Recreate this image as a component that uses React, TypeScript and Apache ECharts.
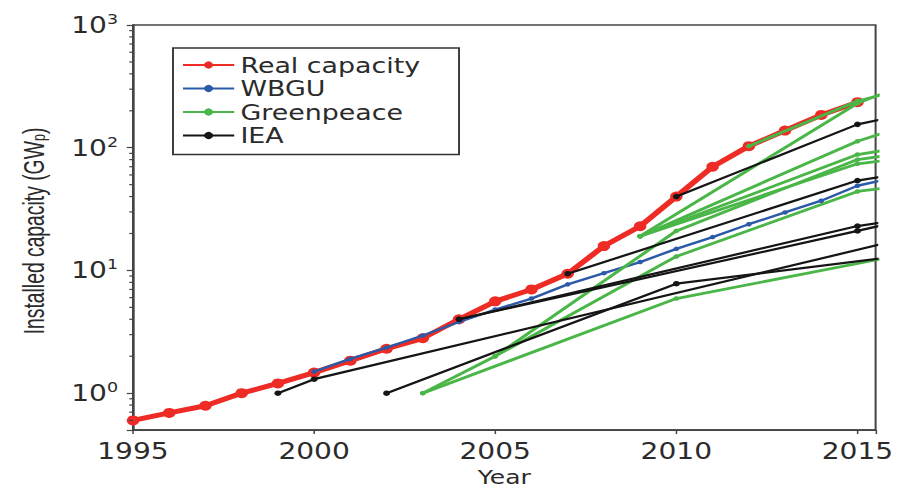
import React, { useEffect, useRef } from "react";
import * as echarts from "echarts";

// ---------- data ----------
const X_MIN = 1995;
const X_MAX = 2015.5;
const X_INTERVAL = 5;
const X_TICKS = [1995, 2000, 2005, 2010, 2015];
const Y_MIN = 0.5;
const Y_MAX = 1000;
const Y_MINOR = [0.6, 0.7, 0.8, 0.9, 2, 3, 4, 5, 6, 7, 8, 9, 20, 30, 40, 50, 60, 70, 80, 90, 200, 300, 400, 500, 600, 700, 800, 900];

const REAL_YEARS = [1995, 1996, 1997, 1998, 1999, 2000, 2001, 2002, 2003, 2004, 2005, 2006, 2007, 2008, 2009, 2010, 2011, 2012, 2013, 2014, 2015];
const REAL = [0.6, 0.69, 0.79, 1.0, 1.2, 1.47, 1.84, 2.3, 2.8, 4.0, 5.6, 7.0, 9.4, 15.8, 22.9, 40, 70, 103, 138, 185, 235];

const WBGU_YEARS = [2000, 2001, 2002, 2003, 2004, 2005, 2006, 2007, 2008, 2009, 2010, 2011, 2012, 2013, 2014, 2015, 2016];
const WBGU = [1.5, 1.9, 2.35, 2.95, 3.8, 4.8, 5.9, 7.7, 9.5, 11.7, 15, 18.7, 23.8, 29.7, 37, 49, 57];

const GREENPEACE_A = [[2003, 1.0], [2010, 5.9], [2016, 13.0]];
const GREENPEACE_B = [[2003, 1.0], [2005, 2.0], [2010, 13], [2015, 44], [2016, 48]];
const GREENPEACE_C = [[2005, 2.0], [2010, 21], [2015, 80], [2016, 88]];
const GREENPEACE_D = [[2009, 19], [2015, 74], [2016, 80]];
const GREENPEACE_E = [[2009, 19], [2015, 88], [2016, 98]];
const GREENPEACE_F = [[2009, 19], [2015, 113], [2016, 140]];
const GREENPEACE_G = [[2009, 19], [2015, 230], [2016, 300]];
const GREENPEACE_H = [[2012, 103], [2015, 240], [2016, 285]];
const GREENPEACE = [GREENPEACE_A, GREENPEACE_B, GREENPEACE_C, GREENPEACE_D, GREENPEACE_E, GREENPEACE_F, GREENPEACE_G, GREENPEACE_H];

const IEA_A = [[1999, 1.0], [2000, 1.3], [2016, 17.3]];
const IEA_B = [[2002, 1.0], [2010, 7.8], [2016, 12.9]];
const IEA_C = [[2004, 4.0], [2015, 21], [2016, 24.5]];
const IEA_D = [[2004, 4.0], [2015, 23], [2016, 25.5]];
const IEA_E = [[2007, 9.4], [2015, 54], [2016, 60]];
const IEA_F = [[2010, 40], [2015, 155], [2016, 178]];
const IEA = [IEA_A, IEA_B, IEA_C, IEA_D, IEA_E, IEA_F];

const LEGEND_NAMES = ["Real capacity", "WBGU", "Greenpeace", "IEA"];
const Y_TITLE = "Installed capacity (GW{sub|p})";
const X_TITLE = "Year";

// ---------- styles ----------
const RED = "#ee2b24";
const BLUE = "#2c5aa8";
const GREEN = "#4ab648";
const BLACK = "#151515";
const AXIS = "#444";
const TEXT = "#2b2b2b";
const NARROW = "'Liberation Sans', Arial, sans-serif";

const PAGE_W = 897;
const PAGE_H = 492;
const INNER_W = 718;
const S = PAGE_W / INNER_W; // horizontal stretch of the original figure

export default function App() {
  const ref = useRef<HTMLDivElement>(null);

  useEffect(() => {
    if (!ref.current) return;
    const chart = echarts.init(ref.current, undefined, { renderer: "svg" });

    const real = REAL_YEARS.map((y, i) => [y, REAL[i]]);
    const wbgu = WBGU_YEARS.map((y, i) => [y, WBGU[i]]);

    const series: any[] = [
      {
        name: "Real capacity",
        type: "line",
        data: real,
        symbol: "circle",
        symbolSize: 10,
        showAllSymbol: true,
        lineStyle: { color: RED, width: 5 },
        itemStyle: { color: RED },
        z: 2,
      },
      {
        name: "WBGU",
        type: "line",
        data: wbgu,
        symbol: "circle",
        symbolSize: 4.5,
        showAllSymbol: true,
        lineStyle: { color: BLUE, width: 2.4 },
        itemStyle: { color: BLUE },
        z: 3,
      },
      ...GREENPEACE.map((d) => ({
        name: "Greenpeace",
        type: "line",
        data: d,
        symbol: "circle",
        symbolSize: 4.5,
        showAllSymbol: true,
        lineStyle: { color: GREEN, width: 2.8 },
        itemStyle: { color: GREEN },
        z: 3,
      })),
      ...IEA.map((d) => ({
        name: "IEA",
        type: "line",
        data: d,
        symbol: "circle",
        symbolSize: 5.5,
        showAllSymbol: true,
        lineStyle: { color: BLACK, width: 2.2 },
        itemStyle: { color: BLACK },
        z: 4,
      })),
      {
        type: "custom",
        silent: true,
        clip: false,
        z: 5,
        data: Y_MINOR.map((v) => [X_MIN, v]),
        renderItem: (_params: any, api: any) => {
          const p = api.coord([api.value(0), api.value(1)]);
          return {
            type: "line",
            shape: { x1: p[0] - 3, y1: p[1], x2: p[0], y2: p[1] },
            style: { stroke: AXIS, lineWidth: 1.2 },
          };
        },
      },
    ];

    const option: any = {
      animation: false,
      backgroundColor: "#ffffff",
      grid: {
        left: 133 / S,
        top: 25,
        width: (882 - 133) / S,
        height: 411,
        show: true,
        borderColor: AXIS,
        borderWidth: 1.6,
        backgroundColor: "transparent",
      },
      graphic: [
        {
          type: "text",
          x: 34 / S,
          y: 231,
          rotation: Math.PI / 2,
          scaleX: 0.84,
          silent: true,
          style: {
            text: Y_TITLE,
            fontFamily: NARROW,
            fontSize: 23,
            fill: TEXT,
            align: "center",
            verticalAlign: "middle",
            rich: {
              sub: {
                fontFamily: NARROW,
                fontSize: 15,
                lineHeight: 15,
                verticalAlign: "bottom",
                fill: TEXT,
              },
            },
          },
        },
      ],
      legend: {
        data: LEGEND_NAMES,
        orient: "vertical",
        left: 173 / S,
        top: 48,
        padding: [6, 31, 8, 7],
        itemGap: 1.5,
        itemWidth: 41,
        itemHeight: 9,
        borderColor: "#333",
        borderWidth: 1.5,
        selectedMode: false,
        textStyle: { fontFamily: "DejaVu Sans", fontSize: 21.5, color: TEXT },
      },
      xAxis: {
        type: "value",
        min: X_MIN,
        max: X_MAX,
        interval: X_INTERVAL,
        name: X_TITLE,
        nameLocation: "middle",
        nameGap: 28,
        nameTextStyle: { fontFamily: "DejaVu Sans", fontSize: 20, color: TEXT },
        axisLine: { show: true, lineStyle: { color: AXIS, width: 1.6 } },
        axisTick: { show: true, inside: false, length: 4, lineStyle: { color: AXIS, width: 1.2 } },
        splitLine: { show: false },
        axisLabel: {
          margin: 9,
          fontFamily: "DejaVu Sans",
          fontSize: 22.5,
          color: TEXT,
          formatter: (v: number) => (X_TICKS.indexOf(v) >= 0 ? String(v) : ""),
        },
      },
      yAxis: {
        type: "log",
        logBase: 10,
        min: Y_MIN,
        max: Y_MAX,
        axisLine: { show: true, lineStyle: { color: AXIS, width: 1.6 } },
        axisTick: { show: true, inside: false, length: 5, lineStyle: { color: AXIS, width: 1.2 } },
        splitLine: { show: false },
        axisLabel: {
          margin: 12,
          fontFamily: "DejaVu Sans",
          fontSize: 22.5,
          lineHeight: 26,
          color: TEXT,
          formatter: (v: number) => {
            const e = Math.round(Math.log10(v));
            if (Math.abs(Math.pow(10, e) - v) > 1e-6 * v) return "";
            return "10{sup|" + e + "}";
          },
          rich: {
            sup: {
              fontFamily: "DejaVu Sans",
              fontSize: 14,
              lineHeight: 14,
              verticalAlign: "top",
              color: TEXT,
            },
          },
        },
      },
      series,
    };

    chart.setOption(option);
    return () => chart.dispose();
  }, []);

  return (
    <div
      style={{
        position: "fixed",
        left: 0,
        top: 0,
        width: PAGE_W,
        height: PAGE_H,
        overflow: "hidden",
        background: "#fff",
      }}
    >
      <div
        ref={ref}
        style={{
          width: INNER_W,
          height: PAGE_H,
          transform: `scaleX(${S})`,
          transformOrigin: "0 0",
        }}
      />
    </div>
  );
}
